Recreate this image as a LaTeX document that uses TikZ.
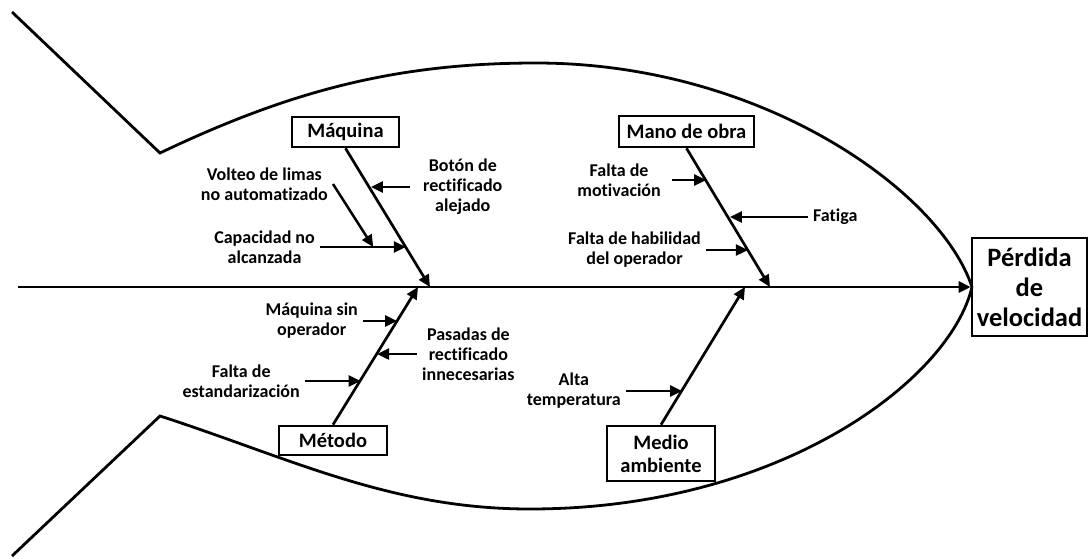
\documentclass[tikz,border=0pt]{standalone}
\usepackage{fontspec}
\setmainfont{Carlito}[Ligatures=NoCommon]
\usetikzlibrary{arrows.meta,calc}

\begin{document}
\begin{tikzpicture}[x=1pt, y=-1pt,
  catbox/.style={draw, line width=2.6pt, inner sep=0pt, align=center,
    font=\fontsize{20.5}{23}\selectfont\bfseries},
  cause/.style={inner sep=5pt, align=center,
    font=\fontsize{18}{20}\selectfont\bfseries},
  arr/.style={-{Triangle[length=12pt,width=11pt]}, line width=2.5pt},
  bone/.style={arr, line width=2.7pt},
  outline/.style={line width=2.8pt, line join=miter}]
  \useasboundingbox (0,0) rectangle (1088,558);
  % fish body and tail
  \draw[outline] (12,12) -- (160,153)
    .. controls (290,91) and (396,63) .. (536,63)
    .. controls (760,63) and (940,190) .. (972,287);
  \draw[outline] (12,556) -- (160,416)
    .. controls (290,458) and (390,509) .. (530,509)
    .. controls (780,509) and (950,380) .. (972,287);
  % head (effect)
  \node[catbox, minimum width=115pt, minimum height=98pt,
    font=\fontsize{26.5}{30}\selectfont\bfseries] (efe) at (1029.5,287)
    {Pérdida\\de\\velocidad};
  % spine
  \coordinate (tail) at (18,287);
  \draw[bone] (tail) -- (efe.west);
  \coordinate (jmaq) at (430,287);
  \coordinate (jmob) at (770,287);
  \coordinate (jmet) at (418,287);
  \coordinate (jmed) at (745,287);
  % categories
  \node[catbox, minimum width=107pt, minimum height=30pt] (maq) at (345.5,132) {Máquina};
  \node[catbox, minimum width=135pt, minimum height=31pt] (mob) at (686.5,131.5) {Mano de obra};
  \node[catbox, minimum width=108pt, minimum height=29pt] (met) at (333,440.5) {Método};
  \node[catbox, minimum width=108pt, minimum height=55pt] (med) at (661,453.5) {Medio\\ambiente};
  \draw[bone] (maq.south) -- (jmaq);
  \draw[bone] (mob.south) -- (jmob);
  \draw[bone] (met.north) -- (jmet);
  \draw[bone] (med.north) -- (jmed);
  % points on the bones
  \coordinate (maq1) at ($(maq.south)!0.3!(jmaq)$);
  \coordinate (maq2) at ($(maq.south)!0.714!(jmaq)$);
  \coordinate (mob1) at ($(mob.south)!0.236!(jmob)$);
  \coordinate (mob2) at ($(mob.south)!0.52!(jmob)$);
  \coordinate (mob3) at ($(mob.south)!0.736!(jmob)$);
  \coordinate (met1) at ($(met.north)!0.755!(jmet)$);
  \coordinate (met2) at ($(met.north)!0.518!(jmet)$);
  \coordinate (met3) at ($(met.north)!0.324!(jmet)$);
  \coordinate (med1) at ($(med.north)!0.252!(jmed)$);
  % causes: maquina
  \node[cause, anchor=west, inner xsep=13pt] (bot) at (410,187) {Botón de\\rectificado\\alejado};
  \node[cause, anchor=east] (cap) at (320,247) {Capacidad no\\alcanzada};
  \node[cause, anchor=east] (vol) at (333,184) {Volteo de limas\\no automatizado};
  \draw[arr] (bot.west) -- (bot.west -| maq1);
  \draw[arr] (cap.east) -- (cap.east -| maq2);
  \draw[arr] (vol.east) -- ($(cap.east)!0.62!(cap.east -| maq2)$);
  % causes: mano de obra
  \node[cause, anchor=east, inner xsep=11pt] (mot) at (672,180) {Falta de\\motivación};
  \node[cause, anchor=west] (fat) at (808,217) {Fatiga};
  \node[cause, anchor=east] (hab) at (706,250) {Falta de habilidad\\del operador};
  \draw[arr] (mot.east) -- (mot.east -| mob1);
  \draw[arr] (fat.west) -- (fat.west -| mob2);
  \draw[arr] (hab.east) -- (hab.east -| mob3);
  % causes: metodo
  \node[cause, anchor=east] (msin) at (363,321) {Máquina sin\\operador};
  \node[cause, anchor=west] (pas) at (417,354) {Pasadas de\\rectificado\\innecesarias};
  \node[cause, anchor=east] (est) at (305,381) {Falta de\\estandarización};
  \draw[arr] (msin.east) -- (msin.east -| met1);
  \draw[arr] (pas.west) -- (pas.west -| met2);
  \draw[arr] (est.east) -- (est.east -| met3);
  % causes: medio ambiente
  \node[cause, anchor=east] (alta) at (626,391) {Alta\\temperatura};
  \draw[arr] (alta.east) -- (alta.east -| med1);
\end{tikzpicture}
\end{document}
